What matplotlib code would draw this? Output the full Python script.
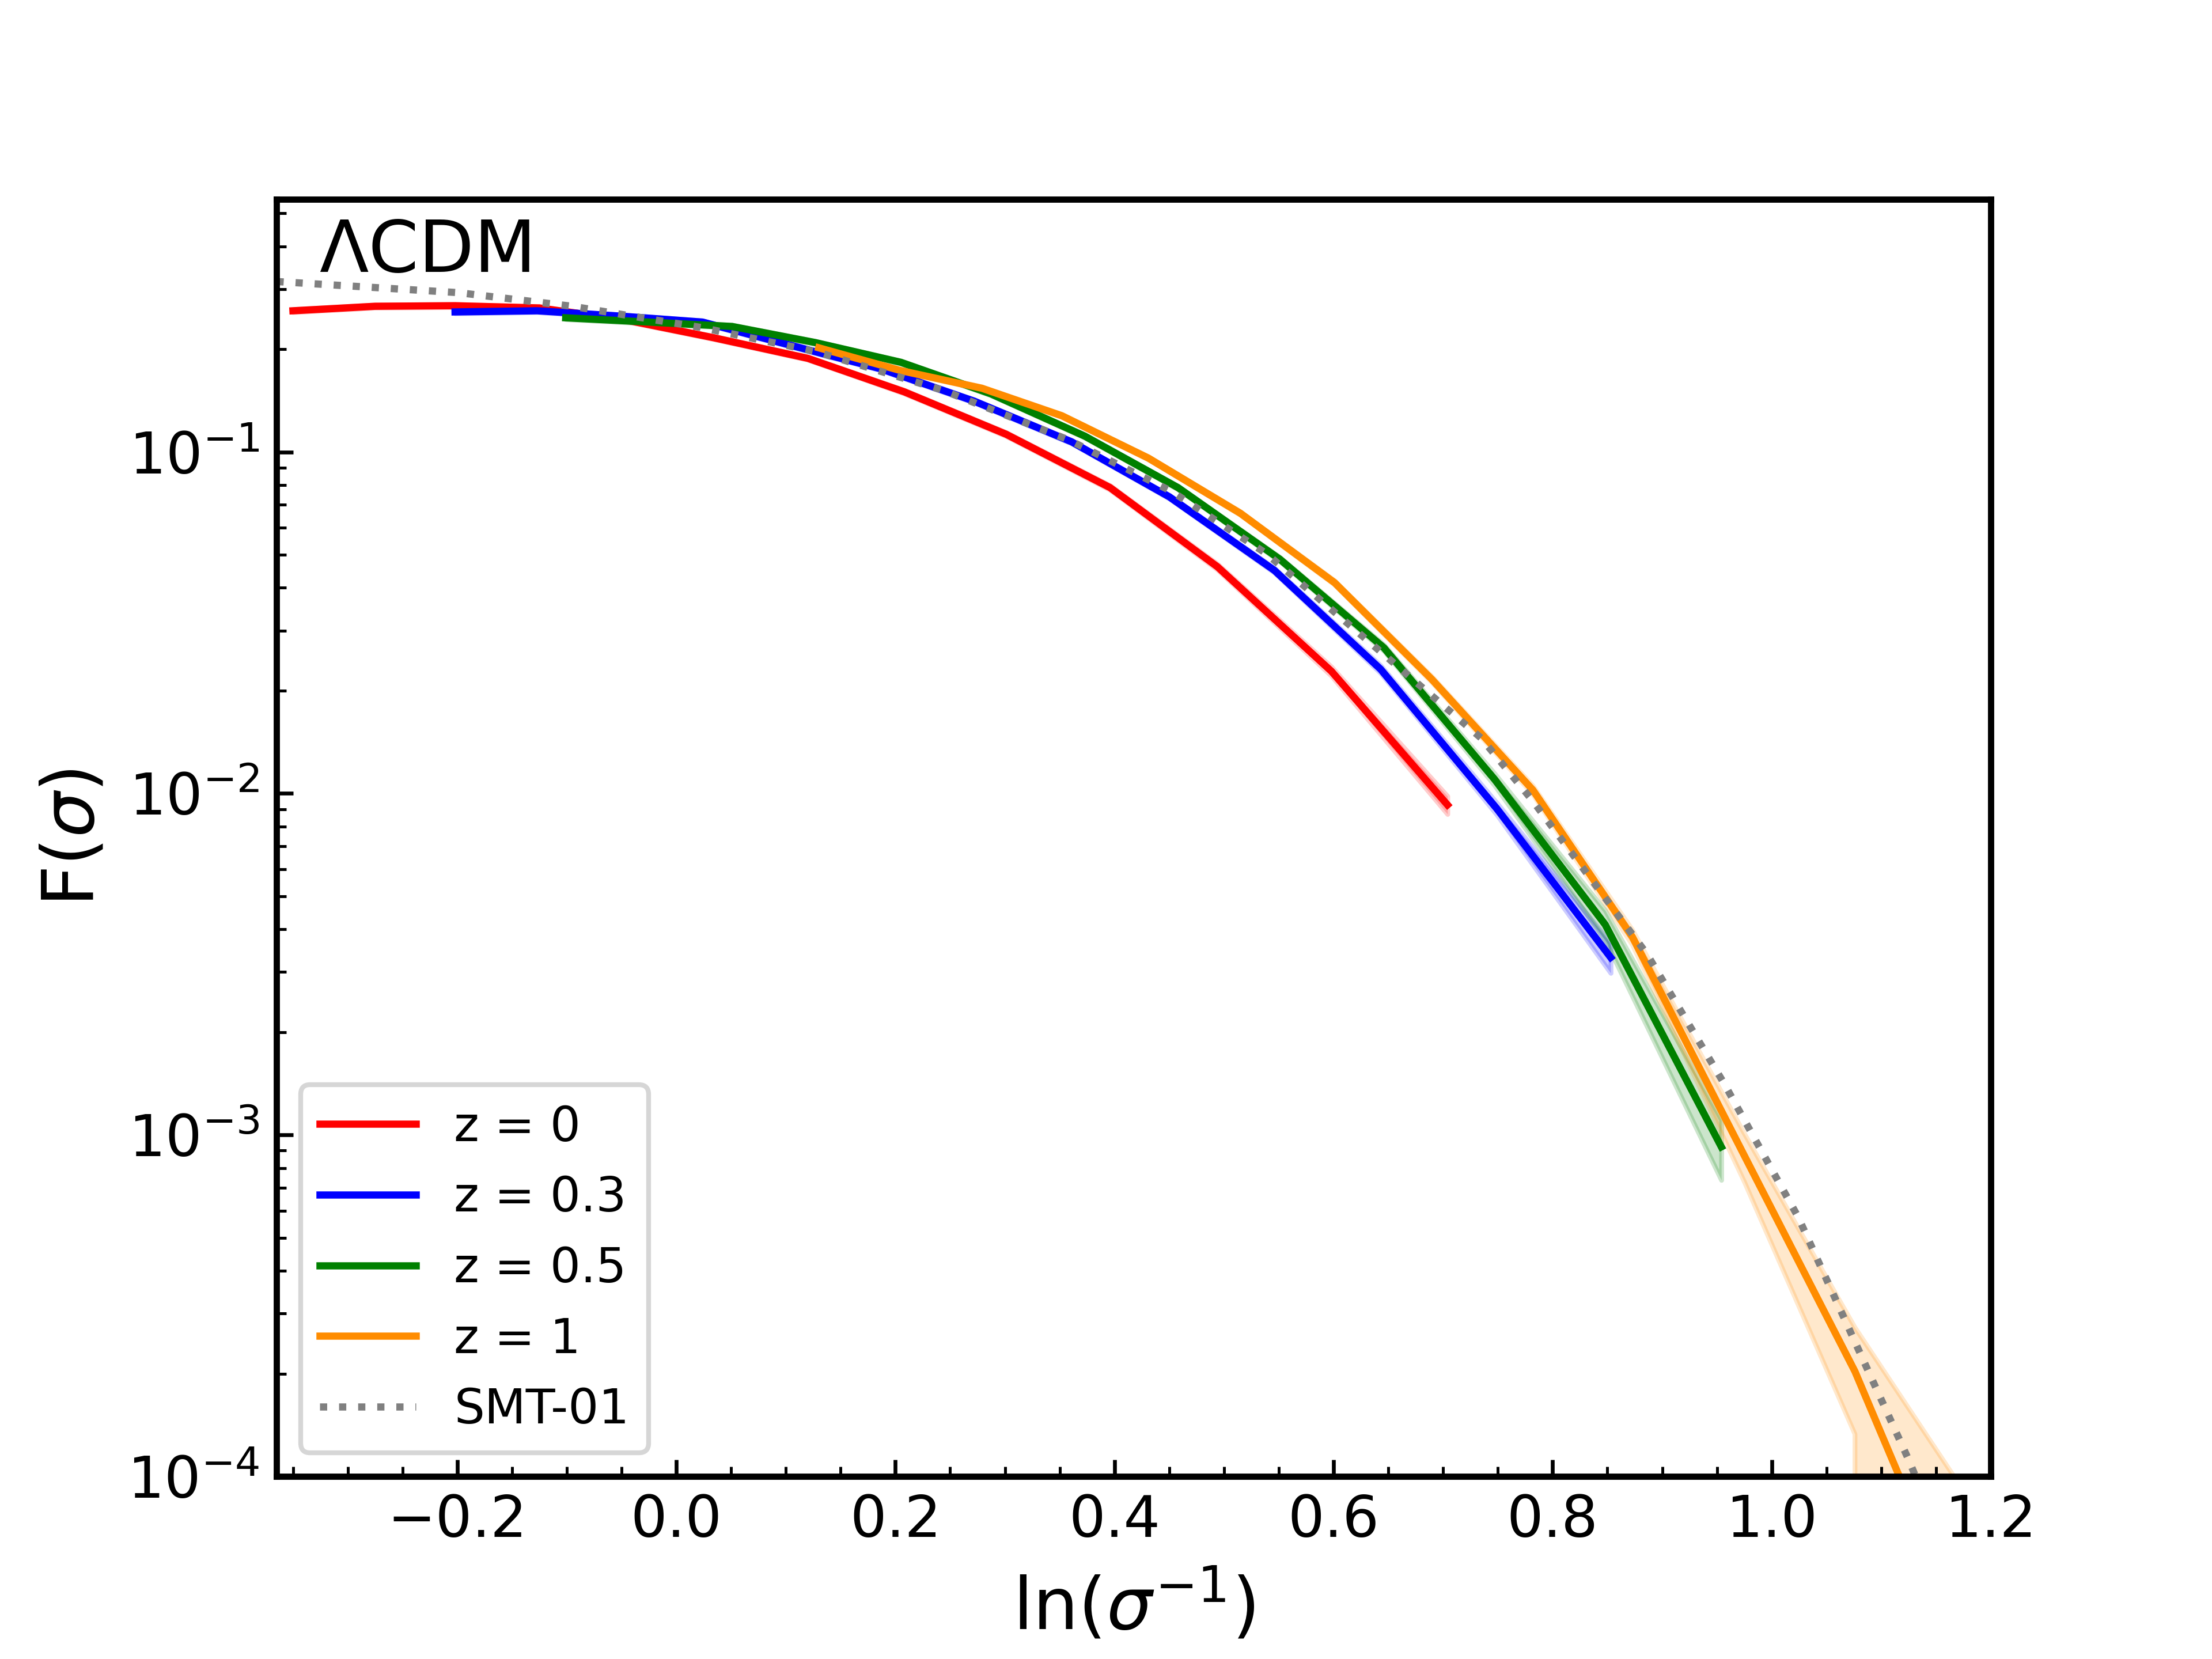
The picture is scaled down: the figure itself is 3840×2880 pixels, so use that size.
import matplotlib
matplotlib.use("Agg")
import numpy as np
import matplotlib.pyplot as plt

# z = 0
x_z0 = [-0.350, -0.275, -0.202, -0.125, -0.045, 0.034, 0.120, 0.208, 0.301, 0.396, 0.494, 0.598, 0.704]
f_z0 = [0.259, 0.267, 0.268, 0.264, 0.243, 0.216, 0.188, 0.150, 0.1127, 0.0786, 0.0461, 0.0228, 0.00926]
e_z0 = [0.0026, 0.0027, 0.0027, 0.0026, 0.0024, 0.0022, 0.0019, 0.0018, 0.0015, 0.0012, 0.0009, 0.0007, 0.00056]

# z = 0.3
x_z03 = [-0.202, -0.127, -0.052, 0.024, 0.105, 0.187, 0.272, 0.361, 0.450, 0.546, 0.643, 0.749, 0.853]
f_z03 = [0.257, 0.259, 0.250, 0.240, 0.205, 0.175, 0.1408, 0.107, 0.0739, 0.045, 0.0231, 0.00903, 0.00331]
e_z03 = [0.0026, 0.0026, 0.0025, 0.0024, 0.0021, 0.0018, 0.0015, 0.0012, 0.0009, 0.0007, 0.0006, 0.00036, 0.00033]

# z = 0.5
x_z05 = [-0.101, -0.025, 0.051, 0.127, 0.205, 0.287, 0.373, 0.458, 0.551, 0.646, 0.747, 0.848, 0.954]
f_z05 = [0.247, 0.240, 0.233, 0.209, 0.183, 0.148, 0.1112, 0.0786, 0.0485, 0.0267, 0.0110, 0.00413, 0.000923]
e_z05 = [0.0025, 0.0024, 0.0023, 0.0021, 0.0018, 0.0015, 0.0012, 0.0009, 0.0007, 0.00055, 0.00044, 0.00041, 0.000185]

# z = 1
x_z1 = [0.130, 0.205, 0.279, 0.352, 0.431, 0.515, 0.601, 0.690, 0.782, 0.873, 0.975, 1.076, 1.180]
f_z1 = [0.2018, 0.173, 0.1536, 0.1276, 0.0959, 0.0661, 0.0414, 0.02154, 0.01023, 0.00379, 0.00087, 0.000203, 0.000033]
e_z1 = [0.002, 0.0017, 0.0015, 0.0013, 0.001, 0.0008, 0.0006, 0.00043, 0.0003, 0.00019, 0.00014, 0.00007, 0.000053]

# SMT-01 fit
x_smt = [-0.365, -0.199, -0.095, 0.024, 0.127, 0.243, 0.358, 0.452, 0.539, 0.633, 0.735, 0.782, 0.886, 0.957, 1.024, 1.125, 1.160]
f_smt = [0.3155, 0.2927, 0.267, 0.231, 0.1968, 0.1517, 0.1085, 0.0767, 0.0503, 0.0277, 0.0145, 0.0095, 0.00339, 0.001406, 0.000576, 0.000112, 0.00006]

runs = [
    (x_z0, f_z0, e_z0, "red", "z = 0"),
    (x_z03, f_z03, e_z03, "blue", "z = 0.3"),
    (x_z05, f_z05, e_z05, "green", "z = 0.5"),
    (x_z1, f_z1, e_z1, "darkorange", "z = 1"),
]

fig, ax = plt.subplots(figsize=(6.4, 4.8))

for x, f, e, c, lab in runs:
    x = np.array(x)
    f = np.array(f)
    e = np.array(e)
    ax.fill_between(x, f - e, f + e, color=c, alpha=0.2)
    ax.plot(x, f, color=c, lw=1.5, label=lab)

ax.plot(x_smt, f_smt, color="gray", ls=":", lw=1.5, label="SMT-01")

ax.set_yscale("log")
ax.set_xlim(-0.365, 1.2)
ax.set_ylim(1e-4, 0.55)
ax.minorticks_on()
ax.tick_params(which="both", direction="in", labelsize=12)
for s in ax.spines.values():
    s.set_linewidth(1.3)

ax.set_xlabel(r"ln($\sigma^{-1}$)", fontsize=15)
ax.set_ylabel(r"F($\sigma$)", fontsize=15)
ax.text(0.025, 0.943, "ΛCDM", transform=ax.transAxes, fontsize=15, va="baseline")
ax.legend(loc="lower left", fontsize=10)

plt.savefig("out.png", dpi=600)
